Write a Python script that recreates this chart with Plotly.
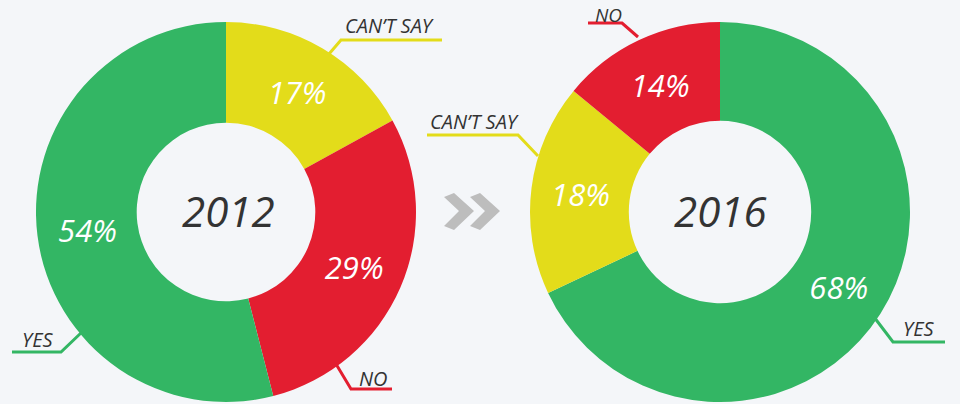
import plotly.graph_objects as go

W, H = 960, 404

# ---- data ----
labels_2012 = ["CAN'T SAY", "NO", "YES"]
values_2012 = [17, 29, 54]
labels_2016 = ["YES", "CAN'T SAY", "NO"]
values_2016 = [68, 18, 14]
years = ["2012", "2016"]

COL = {"YES": "#33b664", "NO": "#e31e30", "CAN'T SAY": "#e3dc1a"}
FONT = "Open Sans"
TXT = "#333333"

def fx(x):
    return x / W

def fy(y):
    return 1 - y / H

fig = go.Figure()

def add_pie(labels, values, cx, r, hole):
    fig.add_trace(go.Pie(
        labels=labels, values=values, sort=False, direction="clockwise",
        rotation=0, hole=hole,
        marker=dict(colors=[COL[l] for l in labels], line=dict(width=0)),
        textinfo="percent", texttemplate="%{percent:.0%}",
        textposition="inside", insidetextorientation="horizontal",
        textfont=dict(family=FONT, size=31, color="white", style="italic"),
        domain=dict(x=[fx(cx - r), fx(cx + r)], y=[fy(212 + r), fy(212 - r)]),
        showlegend=False, hoverinfo="label+percent",
    ))

add_pie(labels_2012, values_2012, 226, 190, 0.47)
add_pie(labels_2016, values_2016, 720, 190, 0.48)

shapes = []
def leader(points, color):
    d = "M " + " L ".join(f"{fx(x)},{fy(y)}" for x, y in points)
    shapes.append(dict(type="path", path=d, xref="paper", yref="paper",
                       line=dict(color=color, width=3)))

# leader lines
leader([(329, 54), (341, 40), (442, 40)], COL["CAN'T SAY"])
leader([(82, 332), (61, 352), (12, 352)], COL["YES"])
leader([(336, 364), (351, 389), (392, 389)], COL["NO"])
leader([(538, 156), (518, 135), (427, 135)], COL["CAN'T SAY"])
leader([(638, 37), (622, 23), (588, 23)], COL["NO"])
leader([(874, 317), (893, 342), (945, 342)], COL["YES"])

# chevrons
for ox in (0, 26):
    x0 = 444 + ox
    pts = [(x0, 197), (x0 + 10, 193), (x0 + 30, 211), (x0 + 10, 230), (x0, 226), (x0 + 15, 211)]
    d = "M " + " L ".join(f"{fx(x)},{fy(y)}" for x, y in pts) + " Z"
    shapes.append(dict(type="path", path=d, xref="paper", yref="paper",
                       fillcolor="#bdbdbd", line=dict(width=0)))

annotations = []
def label(text, x, y, size=20, yanchor="middle"):
    annotations.append(dict(text=text, x=fx(x), y=fy(y), xref="paper", yref="paper",
                            showarrow=False, xanchor="center", yanchor=yanchor,
                            font=dict(family=FONT, size=size, color=TXT, style="italic")))

label("CAN’T SAY", 389, 25)
label("YES", 37, 339)
label("NO", 373, 378)
label("CAN’T SAY", 474, 121)
label("NO", 608, 0, 19, "top")
label("YES", 918, 328)
label(years[0], 228, 210, 42)
label(years[1], 720, 210, 42)

fig.update_layout(
    width=W, height=H, margin=dict(l=0, r=0, t=0, b=0),
    paper_bgcolor="#f4f6f9", plot_bgcolor="#f4f6f9",
    shapes=shapes, annotations=annotations,
    font=dict(family=FONT),
)

fig.write_html("out.html", config={"displayModeBar": False},
               post_script="document.body.style.margin='0';document.body.style.background='#f4f6f9';")
